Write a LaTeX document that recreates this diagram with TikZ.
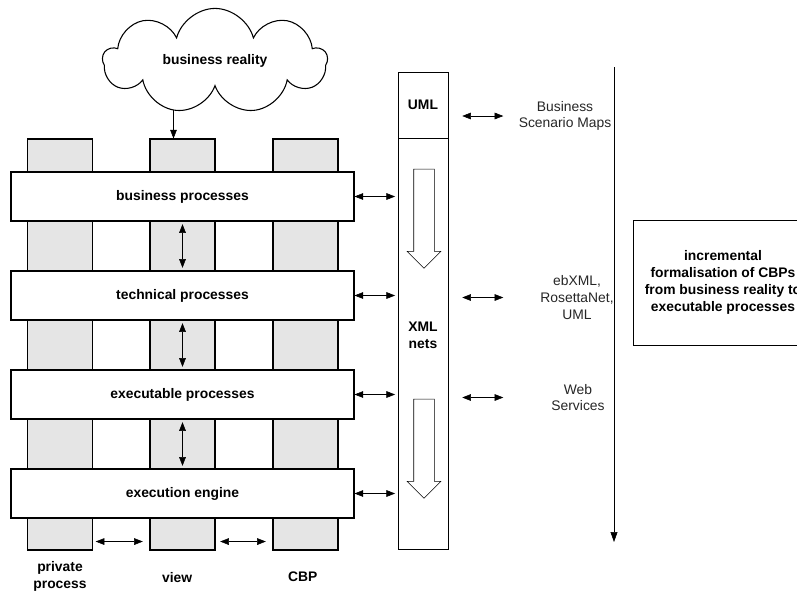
\documentclass[tikz,border=0pt]{standalone}
\usepackage{fontspec}
\setmainfont{Liberation Sans}
\usetikzlibrary{arrows.meta,positioning,shapes.symbols,shapes.arrows,backgrounds}
\newcommand{\figfont}{\fontsize{10.4}{12.6}\selectfont}
\tikzset{
    column/.style = {
        draw,
        fill = gray!20,
        minimum width = 48.75pt,
        minimum height = 308.25pt,
        },
    layer/.style = {
        draw,
        fill = white,
        minimum width = 257.25pt,
        minimum height = 36.75pt,
        font = \figfont\bfseries,
        },
    dbl/.style = {
        {Triangle[length=6.5pt,width=5pt]}-{Triangle[length=6.5pt,width=5pt]},
        },
    single/.style = {
        -{Triangle[length=6.5pt,width=5pt]},
        },
    flow/.style = {
        single arrow,
        draw,
        rotate = -90,
        minimum height = 74.25pt,
        inner xsep = 0pt,
        inner ysep = 7.5pt,
        single arrow head extend = 4.875pt,
        single arrow tip angle = 90,
        },
    side label/.style = {
        align = center,
        text = black!85,
        },
    name label/.style = {
        align = center,
        font = \figfont\bfseries,
        },
}

\begin{document}
\begin{tikzpicture}[x=0.75pt, y=-0.75pt, line width=0.8pt, font=\figfont]
            \clip (0,0) rectangle (797,594);

            % columns
            \node[column] (prv) at (60,344.5) {};
            \node[column] (vw) at (182.5,344.5) {};
            \node[column] (cbp) at (305.5,344.5) {};

            % layers
            \node[layer] (bp) at (182.5,196.5) {business processes};
            \node[layer] (tp) at (182.5,295.5) {technical processes};
            \node[layer] (ep) at (182.5,394.5) {executable processes};
            \node[layer] (ee) at (182.5,493.5) {execution engine};

            \node[cloud, cloud puffs=9, aspect=2.4, draw, fill=white, minimum width=168pt, minimum height=71pt, font=\figfont\bfseries] (reality) at (215,61) {business reality};
            \coordinate (drop) at ([xshift=-6.75pt]vw.north);
            \begin{pgfonlayer}{background}
                \draw[single] (reality.center -| drop) -- (drop);
            \end{pgfonlayer}

            \node[name label, anchor=center] (prvname) at ([yshift=-19.5pt]prv.south) {private\\process};
            \node[name label, anchor=center] (vwname) at ([xshift=-4pt, yshift=-20pt]vw.south) {view};
            \node[name label, anchor=center] (cbpname) at ([xshift=-2pt, yshift=-19.5pt]cbp.south) {CBP};

            \draw[dbl, shorten <=2pt, shorten >=2pt] (bp.south -| vw) -- (tp.north -| vw);
            \draw[dbl, shorten <=2pt, shorten >=2pt] (tp.south -| vw) -- (ep.north -| vw);
            \draw[dbl, shorten <=2pt, shorten >=2pt] (ep.south -| vw) -- (ee.north -| vw);
            \draw[dbl, shorten <=2pt, shorten >=5pt] ([yshift=6.75pt]prv.south east) -- ([yshift=6.75pt]vw.south west);
            \draw[dbl, shorten <=3.5pt, shorten >=5pt] ([yshift=6.75pt]vw.south east) -- ([yshift=6.75pt]cbp.south west);

            % xml column
            \node[draw, minimum width=37.5pt, minimum height=49.5pt, font=\figfont\bfseries] (uml) at (423,105) {UML};
            \node[draw, minimum width=37.5pt, minimum height=308.25pt] (nets) at (423,343.5) {};
            \node[name label] (xmlnets) at (423,335) {XML\\nets};
            \node[flow] (flowa) at (424,213.5) {};
            \node[flow] (flowb) at (424,443.5) {};

            \draw[dbl, shorten >=2pt] (bp.east) -- (bp.east -| nets.west);
            \draw[dbl, shorten >=2pt] (tp.east) -- (tp.east -| nets.west);
            \draw[dbl, shorten >=2pt] (ep.east) -- (ep.east -| nets.west);
            \draw[dbl, shorten >=2pt] (ee.east) -- (ee.east -| nets.west);

            % standards
            \node[side label] (bsm) at (565,116) {Business\\Scenario Maps};
            \node[side label] (ebx) at (577,297.5) {ebXML,\\RosettaNet,\\UML};
            \node[side label] (web) at (578,397.5) {Web\\Services};

            \draw[dbl] ([xshift=10.5pt]uml.east |- bsm) -- ([xshift=41.25pt]uml.east |- bsm);
            \draw[dbl] ([xshift=10.5pt]nets.east |- ebx) -- ([xshift=41.25pt]nets.east |- ebx);
            \draw[dbl] ([xshift=10.5pt]nets.east |- web) -- ([xshift=41.25pt]nets.east |- web);

            % formalisation
            \coordinate (ftop) at (614,67);
            \coordinate (fbot) at (614,542);
            \draw[-{Triangle[length=7.5pt,width=5.25pt]}] (ftop) -- (fbot);
            \node[draw, minimum width=135pt, minimum height=93.75pt, align=center, font=\figfont\bfseries] (incr) at (723,282.5) {incremental\\formalisation of CBPs\\from business reality to\\executable processes};
        \end{tikzpicture}
\end{document}
